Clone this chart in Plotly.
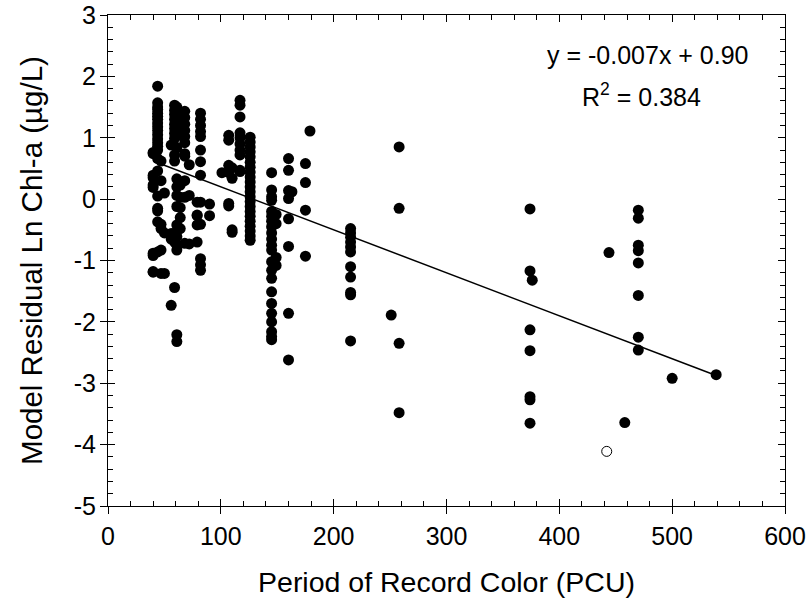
import plotly.graph_objects as go

# Period of record colour (PCU) for each lake column and its model residuals (Ln Chl-a)
COLOR_40 = [0.76, 0.74, 0.39, 0.35, 0.23, 0.19, -0.88, -0.92, -1.18, -1.19]
COLOR_44 = [1.84, 1.57, 1.50, 1.46, 1.40, 1.35, 1.30, 1.24, 1.18, 1.12, 1.05, 0.98, 0.92,
            0.86, 0.80, 0.66, 0.46, 0.05, -0.15, -0.19, -0.37, -0.86]
COLOR_47 = [0.62, 0.30, -0.41, -0.48, -0.83, -1.21]
COLOR_50 = [-1.21, -0.55, 0.10]
COLOR_56 = [0.88, -0.56, -0.65, -1.73]
COLOR_59 = [1.53, 1.45, 1.38, 1.30, 1.22, 1.15, 1.07, 0.99, 0.72, 0.62, -0.70, -1.44]
COLOR_61 = [1.50, 1.40, 1.28, 1.15, 1.03, 0.84, 0.33, 0.20, 0.06, -0.12, -0.42, -0.52,
            -0.61, -0.75, -0.83, -2.21, -2.32]
COLOR_64 = [0.23, 0.03, -0.14, -0.30, -0.48]
COLOR_68 = [1.43, 1.33, 1.22, 1.12, 1.02, 0.92, 0.74, 0.70, 0.30, 0.03, -0.72]
COLOR_72 = [0.56, 0.06, -0.73]
COLOR_79 = [-0.05, -0.27, -0.26, -0.42, -0.70]
COLOR_82 = [1.40, 1.30, 1.20, 1.10, 1.02, 0.80, 0.61, 0.39, -0.05, -0.41, -0.97, -1.07, -1.16]
COLOR_90 = [-0.08, -0.27]
COLOR_101 = [0.43]
COLOR_107 = [1.04, 0.96, 0.55, 0.43, -0.07, -0.11]
COLOR_110 = [0.51, 0.34, -0.50, -0.54]
COLOR_117 = [1.61, 1.53, 1.34, 1.08, 1.00, 0.90, 0.80, 0.72, 0.47, 0.45]
COLOR_126 = [1.01, 0.93, 0.85, 0.77, 0.69, 0.60, 0.52, 0.44, 0.36, 0.28, 0.20, 0.12, 0.04,
             -0.04, -0.12, -0.20, -0.28, -0.36, -0.44, -0.52, -0.60, -0.67]
COLOR_145 = [0.43, 0.15, 0.04, -0.02, -0.20, -0.28, -0.36, -0.45, -0.55, -0.65, -0.75,
             -0.83, -1.02, -1.16, -1.29, -1.51, -1.70, -1.86, -2.00, -2.16, -2.24, -2.29]
COLOR_149 = [-0.25, -0.40, -0.95, -1.08]
COLOR_160 = [0.66, 0.47, 0.14, 0.01, -0.32, -0.77, -1.86, -2.62]
COLOR_163 = [0.12]
COLOR_175 = [0.58, 0.27, -0.18, -0.93]
COLOR_179 = [1.11]
COLOR_215 = [-0.48, -0.55, -0.62, -0.70, -0.78, -0.86, -1.10, -1.27, -1.52, -1.56, -2.31]
COLOR_251 = [-1.89]
COLOR_258 = [0.85, -0.15, -2.35, -3.48]
COLOR_374 = [-0.16, -1.17, -2.13, -2.47, -3.22, -3.27, -3.65]
COLOR_376 = [-1.32]
COLOR_444 = [-0.87]
COLOR_458 = [-3.64]
COLOR_470 = [-0.18, -0.31, -0.75, -0.84, -1.04, -1.57, -2.25, -2.46]
COLOR_500 = [-2.92]
COLOR_539 = [-2.86]

COLUMNS = {
    40: COLOR_40, 44: COLOR_44, 47: COLOR_47, 50: COLOR_50, 56: COLOR_56, 59: COLOR_59,
    61: COLOR_61, 64: COLOR_64, 68: COLOR_68, 72: COLOR_72, 79: COLOR_79, 82: COLOR_82,
    90: COLOR_90, 101: COLOR_101, 107: COLOR_107, 110: COLOR_110, 117: COLOR_117,
    126: COLOR_126, 145: COLOR_145, 149: COLOR_149, 160: COLOR_160, 163: COLOR_163,
    175: COLOR_175, 179: COLOR_179, 215: COLOR_215, 251: COLOR_251, 258: COLOR_258,
    374: COLOR_374, 376: COLOR_376, 444: COLOR_444, 458: COLOR_458, 470: COLOR_470,
    500: COLOR_500, 539: COLOR_539,
}

# Excluded (open-circle) observation
OUTLIER_X = [442]
OUTLIER_Y = [-4.11]

# Fitted regression reported on chart
FIT_SLOPE = -0.007
FIT_INTERCEPT = 0.90

X_TICKS = [0, 100, 200, 300, 400, 500, 600]
X_TICK_TEXT = ["0", "100", "200", "300", "400", "500", "600"]
Y_TICKS = [-5, -4, -3, -2, -1, 0, 1, 2, 3]
Y_TICK_TEXT = ["-5", "-4", "-3", "-2", "-1", "0", "1", "2", "3"]

xs, ys = [], []
for c, vals in COLUMNS.items():
    for v in vals:
        xs.append(c)
        ys.append(v)

FONT = "Liberation Sans, Arial, Helvetica, sans-serif"

fig = go.Figure()
fig.add_trace(go.Scatter(x=xs, y=ys, mode="markers",
                         marker=dict(size=11, color="black", line=dict(width=0)),
                         showlegend=False))
line_x = [min(xs), max(xs)]
line_y = [FIT_SLOPE * v + FIT_INTERCEPT for v in line_x]
fig.add_trace(go.Scatter(x=line_x, y=line_y, mode="lines",
                         line=dict(color="black", width=1.5), showlegend=False))
fig.add_trace(go.Scatter(x=OUTLIER_X, y=OUTLIER_Y, mode="markers",
                         marker=dict(size=10, color="white", line=dict(color="black", width=1)),
                         showlegend=False))
fig.add_trace(go.Scatter(x=[None], y=[None], xaxis="x2", yaxis="y2", showlegend=False,
                         hoverinfo="skip"))

axis_common = dict(showgrid=False, zeroline=False, showline=True, linecolor="black",
                   linewidth=1.2, tickcolor="black", tickwidth=1.2, automargin=False,
                   ticklabeloverflow="allow")

fig.update_layout(
    width=809, height=610,
    margin=dict(l=108, r=24, t=15, b=104),
    paper_bgcolor="white", plot_bgcolor="white",
    font=dict(family=FONT, color="black", size=25),
    xaxis=dict(range=[0, 600], tickvals=X_TICKS, ticktext=X_TICK_TEXT, ticks="inside",
               ticklen=7, mirror="ticks", ticklabelstandoff=8,
               minor=dict(dtick=20, ticks="inside", ticklen=5, tickcolor="black"),
               tickfont=dict(size=25),
               title=dict(text="Period of Record Color (PCU)", font=dict(size=28.5), standoff=22),
               **axis_common),
    yaxis=dict(range=[-5, 3], tickvals=Y_TICKS, ticktext=Y_TICK_TEXT, ticks="inside",
               ticklen=7, mirror="ticks", ticklabelstandoff=6,
               minor=dict(dtick=0.2, ticks="inside", ticklen=5, tickcolor="black"),
               tickfont=dict(size=25),
               title=dict(text="Model Residual Ln Chl-a (µg/L)", font=dict(size=29.5), standoff=22),
               **axis_common),
    xaxis2=dict(range=[0, 600], tickvals=X_TICKS, overlaying="x", side="bottom", anchor="y",
                ticks="outside", ticklen=7, showticklabels=False, showgrid=False,
                zeroline=False, showline=False, tickcolor="black", tickwidth=1.2),
    yaxis2=dict(range=[-5, 3], tickvals=Y_TICKS, overlaying="y", side="left", anchor="x",
                ticks="outside", ticklen=7, showticklabels=False, showgrid=False,
                zeroline=False, showline=False, tickcolor="black", tickwidth=1.2),
    annotations=[
        dict(x=479, y=2.35, xref="x", yref="y", showarrow=False, xanchor="center",
             text="y = -0.007x + 0.90", font=dict(size=25)),
        dict(x=473, y=1.69, xref="x", yref="y", showarrow=False, xanchor="center",
             text="R<sup>2</sup> = 0.384", font=dict(size=25)),
    ],
)

fig.write_html("out.html", config={"displayModeBar": False},
               post_script="document.body.style.margin='0';document.body.style.overflow='hidden';")
